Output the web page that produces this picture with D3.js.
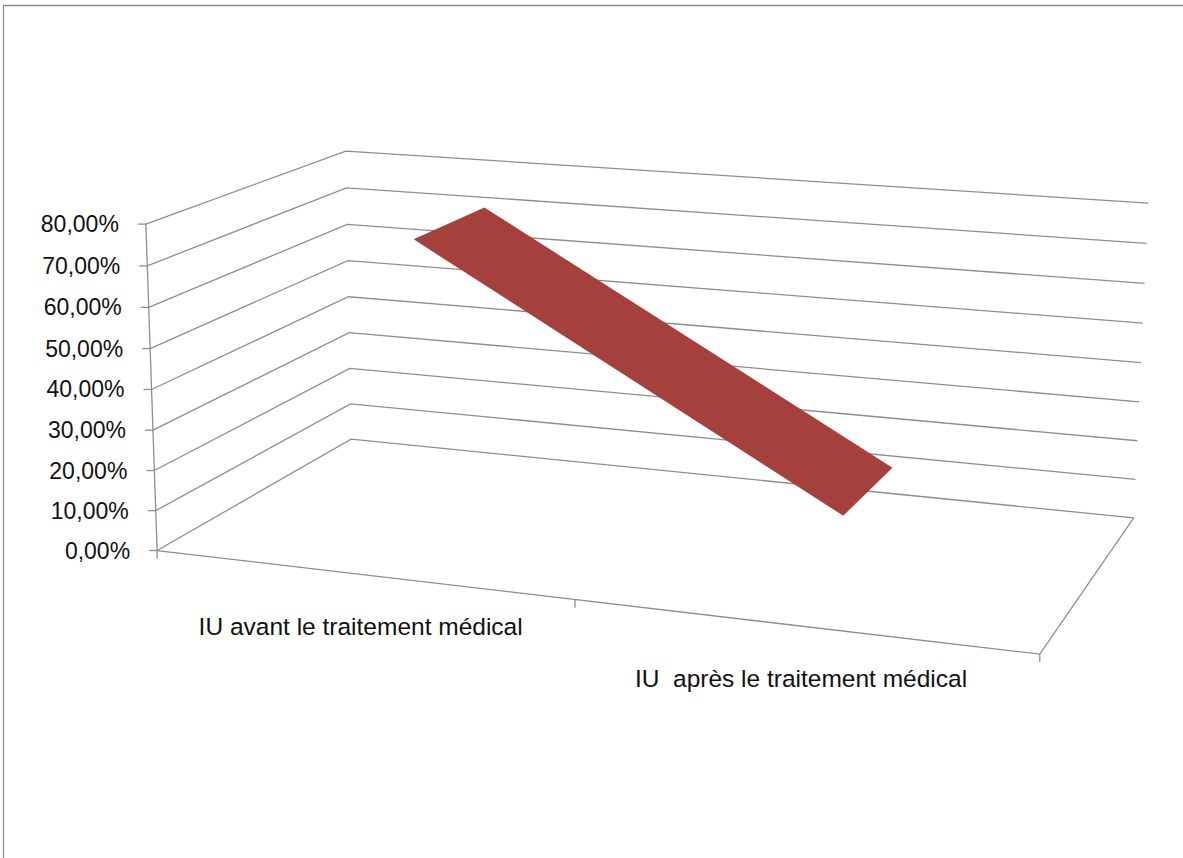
<!DOCTYPE html>
<html>
<head>
<meta charset="utf-8">
<script src="https://cdn.jsdelivr.net/npm/d3@7"></script>
<style>
  html, body { margin: 0; padding: 0; background: #fff; }
  svg { display: block; }
  text { font-family: "Liberation Sans", Arial, sans-serif; fill: #111; }
</style>
</head>
<body>
<svg id="chart" width="1183" height="858"></svg>
<script>
// ---- data ----
const categories = ["IU avant le traitement médical", "IU  après le traitement médical"];
const values = [0.74, 0.164];
const yTicks = [0, 0.1, 0.2, 0.3, 0.4, 0.5, 0.6, 0.7, 0.8];
const yTickLabels = ["0,00%", "10,00%", "20,00%", "30,00%", "40,00%", "50,00%", "60,00%", "70,00%", "80,00%"];

// ---- 3D box: u = category axis, v = value axis, w = depth (0 front, 1 back) ----
// Screen anchors of the plot box, used to fit a perspective camera.
const anchors = [];
const frontLeftY = [550, 510, 470, 430, 390, 349, 308, 266, 224];
const backLeftY  = [438, 406, 369, 333, 297, 261, 223, 187, 151];
const backRightY = [517, 479, 441, 402, 363, 323, 284, 243, 203];
for (let k = 0; k <= 8; k++) {
  anchors.push([0, k / 8, 0, 158 - 13 * k / 8, frontLeftY[k]]);
  anchors.push([0, k / 8, 1, 350 - 3 * k / 8, backLeftY[k]]);
  anchors.push([1, k / 8, 1, 1134 + 14 * k / 8, backRightY[k]]);
}
anchors.push([0.5, 0, 0, 575, 599]);
anchors.push([1, 0, 0, 1040, 655]);

// Direct linear transform, least squares via normal equations
function fitCamera(pts) {
  const n = 11;
  const M = Array.from({length: n}, () => new Array(n).fill(0));
  const r = new Array(n).fill(0);
  function add(row, b) {
    for (let i = 0; i < n; i++) {
      r[i] += row[i] * b;
      for (let j = 0; j < n; j++) M[i][j] += row[i] * row[j];
    }
  }
  pts.forEach(([X, Y, Z, x, y]) => {
    add([X, Y, Z, 1, 0, 0, 0, 0, -x * X, -x * Y, -x * Z], x);
    add([0, 0, 0, 0, X, Y, Z, 1, -y * X, -y * Y, -y * Z], y);
  });
  for (let c = 0; c < n; c++) {
    let piv = c;
    for (let i = c + 1; i < n; i++) if (Math.abs(M[i][c]) > Math.abs(M[piv][c])) piv = i;
    [M[c], M[piv]] = [M[piv], M[c]];
    [r[c], r[piv]] = [r[piv], r[c]];
    for (let i = c + 1; i < n; i++) {
      const f = M[i][c] / M[c][c];
      for (let j = c; j < n; j++) M[i][j] -= f * M[c][j];
      r[i] -= f * r[c];
    }
  }
  const p = new Array(n).fill(0);
  for (let i = n - 1; i >= 0; i--) {
    let s = r[i];
    for (let j = i + 1; j < n; j++) s -= M[i][j] * p[j];
    p[i] = s / M[i][i];
  }
  return p;
}
const P = fitCamera(anchors);
function project(u, v, w) {
  const d = P[8] * u + P[9] * v + P[10] * w + 1;
  return [(P[0] * u + P[1] * v + P[2] * w + P[3]) / d,
          (P[4] * u + P[5] * v + P[6] * w + P[7]) / d];
}

// ---- scales ----
const vScale = d3.scaleLinear().domain([0, 0.8]).range([0, 1]);
const uScale = d3.scaleBand().domain(categories).range([0, 1]);
const uCenter = c => uScale(c) + uScale.bandwidth() / 2;
const ribbonDepth = [0.3, 0.7];

const svg = d3.select("#chart");
const gridColor = "#8e8e8e";
const line = d3.line();

// outer frame
svg.append("path")
  .attr("d", "M3.5,860 V5.5 H1185")
  .attr("fill", "none").attr("stroke", "#8a8a8a").attr("stroke-width", 1.3);

// gridlines on the side and back walls
const grid = svg.append("g").attr("fill", "none").attr("stroke", gridColor).attr("stroke-width", 1.3);
yTicks.forEach(t => {
  const v = vScale(t);
  grid.append("path").attr("d", line([project(0, v, 0), project(0, v, 1), project(1, v, 1)]));
});
// floor outline
grid.append("path").attr("d", line([project(0, 0, 0), project(1, 0, 0), project(1, 0, 1)]));
// value axis
grid.append("path").attr("d", line([project(0, 0, 0), project(0, 1, 0)]));

// value ticks and labels
yTicks.forEach((t, i) => {
  const [x, y] = project(0, vScale(t), 0);
  grid.append("path").attr("d", line([[x - 8, y], [x, y]]));
  svg.append("text")
    .attr("x", x - 27).attr("y", y)
    .attr("text-anchor", "end").attr("dominant-baseline", "central")
    .attr("font-size", 23)
    .text(yTickLabels[i]);
});

// category ticks and labels
[0, 0.5, 1].forEach(u => {
  const [x, y] = project(u, 0, 0);
  grid.append("path").attr("d", line([[x, y], [x, y + 8]]));
});
categories.forEach(c => {
  const [x, y] = project(uCenter(c), 0, 0);
  svg.append("text")
    .attr("x", x).attr("y", y + 61)
    .attr("text-anchor", "middle")
    .attr("font-size", 24.5)
    .attr("xml:space", "preserve")
    .style("white-space", "pre")
    .text(c);
});

// ribbon: top face of the 3D line
const pts = categories.map((c, i) => ({u: uCenter(c), v: vScale(values[i])}));
const quad = [
  project(pts[0].u, pts[0].v, ribbonDepth[0]),
  project(pts[1].u, pts[1].v, ribbonDepth[0]),
  project(pts[1].u, pts[1].v, ribbonDepth[1]),
  project(pts[0].u, pts[0].v, ribbonDepth[1])
];
svg.append("path").attr("d", line(quad) + "Z").attr("fill", "#a5403d");
</script>
</body>
</html>
